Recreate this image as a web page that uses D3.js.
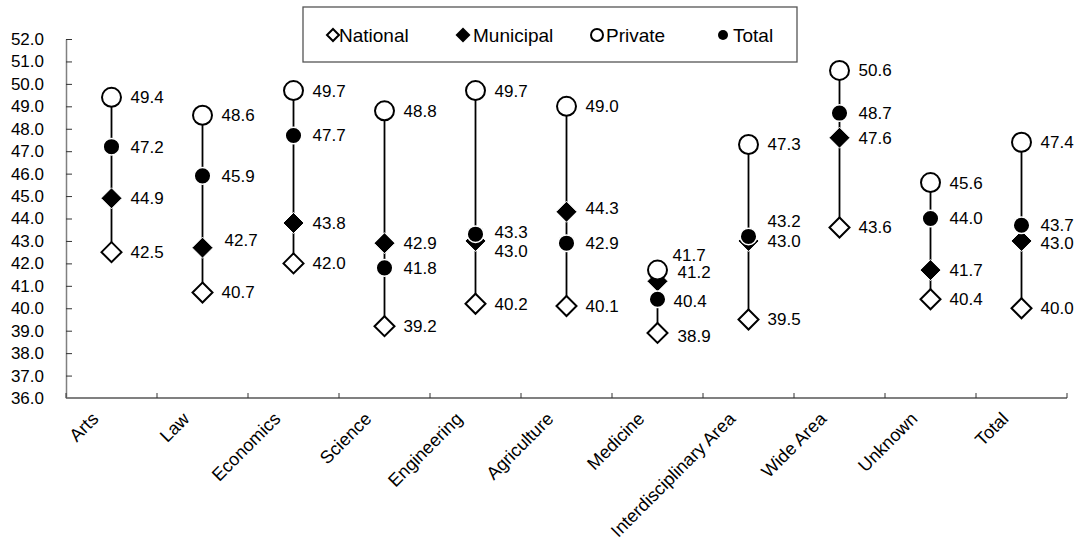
<!DOCTYPE html>
<html>
<head>
<meta charset="utf-8">
<script src="https://cdn.jsdelivr.net/npm/d3@7"></script>
<style>
  html, body { margin: 0; padding: 0; background: #fff; }
  svg { display: block; font-family: "Liberation Sans", Arial, sans-serif; }
</style>
</head>
<body>
<svg id="chart" width="1078" height="552"></svg>
<script>
// Categories along the x axis
const categories = ["Arts", "Law", "Economics", "Science", "Engineering", "Agriculture",
  "Medicine", "Interdisciplinary Area", "Wide Area", "Unknown", "Total"];

// Values per series (one per category)
const national  = [42.5, 40.7, 42.0, 39.2, 40.2, 40.1, 38.9, 39.5, 43.6, 40.4, 40.0];
const municipal = [44.9, 42.7, 43.8, 42.9, 43.0, 44.3, 41.2, 43.0, 47.6, 41.7, 43.0];
const privateU  = [49.4, 48.6, 49.7, 48.8, 49.7, 49.0, 41.7, 47.3, 50.6, 45.6, 47.4];
const total     = [47.2, 45.9, 47.7, 41.8, 43.3, 42.9, 40.4, 43.2, 48.7, 44.0, 43.7];

// Y axis tick values
const yTicks = d3.range(36, 52.01, 1);

// Series names, in drawing order
const seriesNames = ["National", "Municipal", "Private", "Total"];

// Label nudges (pixels) where labels would collide
const labelNudges = [
  { series: "Municipal", cat: "Law", dx: 3, dy: -8 },
  { series: "Municipal", cat: "Engineering", dx: 0, dy: 10 },
  { series: "Total", cat: "Engineering", dx: 0, dy: -2 },
  { series: "Municipal", cat: "Agriculture", dx: 0, dy: -4 },
  { series: "Total", cat: "Interdisciplinary Area", dx: 0, dy: -15 },
  { series: "Private", cat: "Medicine", dx: -4, dy: -15 },
  { series: "Municipal", cat: "Medicine", dx: 1, dy: -9 },
  { series: "Total", cat: "Medicine", dx: -3, dy: 2 },
  { series: "National", cat: "Medicine", dx: 1, dy: 3 },
  { series: "Municipal", cat: "Total", dx: 0, dy: 2 }
];

const seriesValues = { National: national, Municipal: municipal, Private: privateU, Total: total };

(function draw() {
  const svg = d3.select("#chart");
  const plotLeft = 66, plotRight = 1067, plotTop = 39, plotBottom = 398;

  const x = d3.scaleBand().domain(categories).range([plotLeft, plotRight]).paddingInner(0).paddingOuter(0);
  const y = d3.scaleLinear().domain([36, 52]).range([plotBottom, plotTop]);
  const cx = c => x(c) + x.bandwidth() / 2;

  const axisColor = "#808080";
  const fontSize = 17;

  // Y axis
  const yAxis = svg.append("g")
    .attr("transform", `translate(${plotLeft},0)`)
    .call(d3.axisLeft(y).tickValues(yTicks).tickFormat(d3.format(".1f"))
      .tickSizeInner(-6).tickSizeOuter(0).tickPadding(22));
  yAxis.select(".domain").attr("stroke", axisColor).attr("stroke-width", 1.5);
  yAxis.selectAll(".tick line").attr("stroke", "#333").attr("stroke-width", 1);
  yAxis.selectAll(".tick text").attr("font-size", fontSize).attr("fill", "#000")
    .attr("font-family", "Liberation Sans, Arial, sans-serif");

  // X axis line with ticks at category boundaries
  const xAxisG = svg.append("g");
  xAxisG.append("line")
    .attr("x1", plotLeft).attr("x2", plotRight).attr("y1", plotBottom).attr("y2", plotBottom)
    .attr("stroke", axisColor).attr("stroke-width", 2);
  const boundaries = categories.map(c => x(c)).concat([x.range()[1]]);
  xAxisG.selectAll(".xtick").data(boundaries).join("line")
    .attr("class", "xtick")
    .attr("x1", d => d).attr("x2", d => d)
    .attr("y1", plotBottom).attr("y2", plotBottom - 5)
    .attr("stroke", "#333").attr("stroke-width", 1);

  // Rotated category labels
  xAxisG.selectAll(".xlabel").data(categories).join("text")
    .attr("class", "xlabel")
    .attr("transform", d => `translate(${cx(d) - 12},${plotBottom + 22}) rotate(-45)`)
    .attr("text-anchor", "end")
    .attr("font-size", 18)
    .attr("fill", "#000")
    .text(d => d);

  // High-low lines per category
  const rows = categories.map((c, i) => {
    const vals = seriesNames.map(s => seriesValues[s][i]);
    return { cat: c, min: d3.min(vals), max: d3.max(vals) };
  });
  svg.append("g").selectAll("line").data(rows).join("line")
    .attr("x1", d => cx(d.cat)).attr("x2", d => cx(d.cat))
    .attr("y1", d => y(d.min)).attr("y2", d => y(d.max))
    .attr("stroke", "#000").attr("stroke-width", 1.8);

  // Marker drawing helpers
  const diamond = (size) => `M0,${-size}L${size},0L0,${size}L${-size},0Z`;
  const markerStyle = {
    National:  sel => sel.append("path").attr("d", diamond(10)).attr("fill", "#fff").attr("stroke", "#000").attr("stroke-width", 2),
    Municipal: sel => sel.append("path").attr("d", diamond(10.5)).attr("fill", "#000").attr("stroke", "#fff").attr("stroke-width", 1),
    Private:   sel => sel.append("circle").attr("r", 9.5).attr("fill", "#fff").attr("stroke", "#000").attr("stroke-width", 2),
    Total:     sel => sel.append("circle").attr("r", 8.3).attr("fill", "#000").attr("stroke", "#fff").attr("stroke-width", 1.5)
  };
  const legendStyle = {
    National:  sel => sel.append("path").attr("d", diamond(6)).attr("fill", "#fff").attr("stroke", "#000").attr("stroke-width", 2),
    Municipal: sel => sel.append("path").attr("d", diamond(7.5)).attr("fill", "#000"),
    Private:   sel => sel.append("circle").attr("r", 6).attr("fill", "#fff").attr("stroke", "#000").attr("stroke-width", 2),
    Total:     sel => sel.append("circle").attr("r", 5).attr("fill", "#000")
  };

  // Markers
  seriesNames.forEach(s => {
    const data = categories.map((c, i) => ({ cat: c, v: seriesValues[s][i] }));
    const g = svg.append("g").attr("class", "series-" + s);
    g.selectAll("g").data(data).join("g")
      .attr("transform", d => `translate(${cx(d.cat)},${y(d.v)})`)
      .each(function () { markerStyle[s](d3.select(this)); });
  });

  // Value labels
  seriesNames.forEach(s => {
    const data = categories.map((c, i) => {
      const n = labelNudges.find(k => k.series === s && k.cat === c) || { dx: 0, dy: 0 };
      return { cat: c, v: seriesValues[s][i], dx: n.dx, dy: n.dy };
    });
    svg.append("g").selectAll("text").data(data).join("text")
      .attr("x", d => cx(d.cat) + 19 + d.dx)
      .attr("y", d => y(d.v) + d.dy)
      .attr("dy", "0.35em")
      .attr("font-size", fontSize)
      .attr("fill", "#000")
      .text(d => d3.format(".1f")(d.v));
  });

  // Legend
  const legend = svg.append("g");
  legend.append("rect")
    .attr("x", 303).attr("y", 7).attr("width", 494).attr("height", 55)
    .attr("fill", "#fff").attr("stroke", "#555").attr("stroke-width", 1.3);
  const legendPos = { National: 333, Municipal: 463, Private: 597, Total: 723 };
  const legendGap = { National: 6, Municipal: 10, Private: 9, Total: 10 };
  seriesNames.forEach(s => {
    const item = legend.append("g").attr("transform", `translate(${legendPos[s]},35)`);
    legendStyle[s](item);
    item.append("text")
      .attr("x", legendGap[s])
      .attr("dy", "0.35em")
      .attr("font-size", 19)
      .attr("fill", "#000")
      .text(s);
  });
})();
</script>
</body>
</html>
